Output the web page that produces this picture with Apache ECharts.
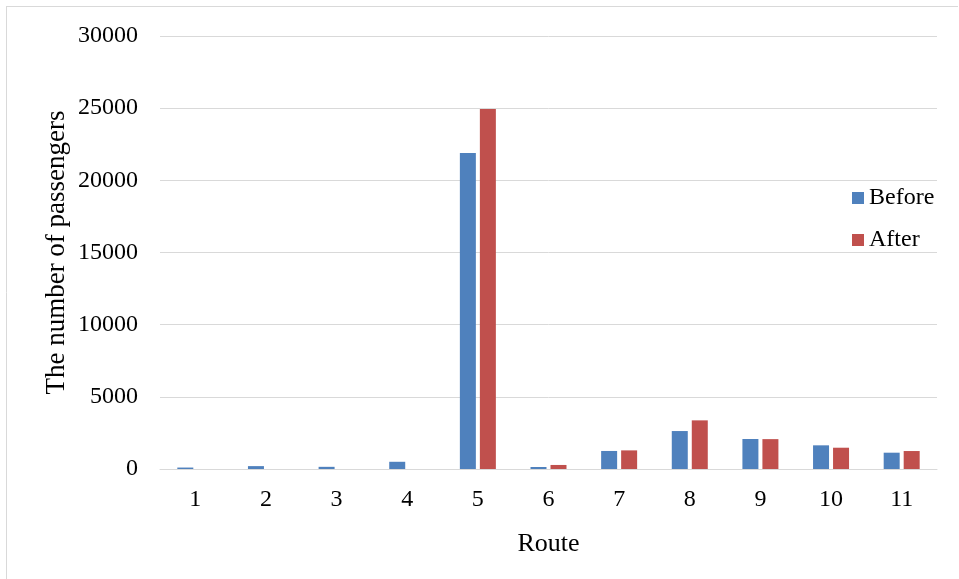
<!DOCTYPE html>
<html>
<head>
<meta charset="utf-8">
<script src="https://cdn.jsdelivr.net/npm/echarts@6/dist/echarts.min.js"></script>
<style>
  html, body { margin: 0; padding: 0; background: #fff; }
  #chart { width: 959px; height: 579px; }
</style>
</head>
<body>
<div id="chart"></div>
<script>
// Passenger counts per route, before and after the change
const routes = ['1', '2', '3', '4', '5', '6', '7', '8', '9', '10', '11'];
const before = [100, 200, 150, 500, 21900, 140, 1250, 2630, 2080, 1640, 1130];
const after  = [0, 0, 0, 0, 24950, 280, 1290, 3370, 2070, 1475, 1245];
const yTicks = [0, 5000, 10000, 15000, 20000, 25000, 30000];

const FONT = '"Liberation Serif", "Times New Roman", serif';
const GRID_COLOR = '#d9d9d9';

const chart = echarts.init(document.getElementById('chart'), null, { renderer: 'canvas' });

chart.setOption({
  backgroundColor: '#ffffff',
  animation: false,
  textStyle: { fontFamily: FONT, color: '#000' },
  graphic: [
    // frame: top and left edges
    { type: 'line', shape: { x1: 6, y1: 6.5, x2: 958, y2: 6.5 }, style: { stroke: GRID_COLOR, lineWidth: 1 } },
    { type: 'line', shape: { x1: 6.5, y1: 6, x2: 6.5, y2: 579 }, style: { stroke: GRID_COLOR, lineWidth: 1 } }
  ],
  grid: { left: 160, right: 22, top: 36, bottom: 110, containLabel: false },
  legend: {
    orient: 'vertical',
    left: 847,
    top: 181,
    itemWidth: 12,
    itemHeight: 12,
    itemGap: 18,
    icon: 'rect',
    textStyle: { fontFamily: FONT, fontSize: 24, color: '#000', lineHeight: 24 },
    data: ['Before', 'After']
  },
  xAxis: {
    type: 'category',
    data: routes,
    name: 'Route',
    nameLocation: 'middle',
    nameGap: 62,
    nameTextStyle: { fontFamily: FONT, fontSize: 26, color: '#000' },
    axisLine: { show: true, lineStyle: { color: GRID_COLOR, width: 1 } },
    axisTick: { show: false },
    axisLabel: { fontFamily: FONT, fontSize: 24, color: '#000', margin: 19 }
  },
  yAxis: {
    type: 'value',
    min: yTicks[0],
    max: yTicks[yTicks.length - 1],
    interval: yTicks[1] - yTicks[0],
    name: 'The number of passengers',
    nameLocation: 'middle',
    nameGap: 90,
    nameMoveOverlap: false,
    nameTextStyle: { fontFamily: FONT, fontSize: 27, color: '#000' },
    axisLine: { show: false },
    axisTick: { show: false },
    splitLine: { show: true, lineStyle: { color: GRID_COLOR, width: 1 } },
    axisLabel: {
      fontFamily: FONT, fontSize: 24, color: '#000', margin: 22,
      formatter: (v) => String(v)
    }
  },
  series: [
    {
      name: 'Before',
      type: 'bar',
      data: before,
      barWidth: 16,
      barGap: '25%',
      itemStyle: { color: '#4F81BD' }
    },
    {
      name: 'After',
      type: 'bar',
      data: after,
      barWidth: 16,
      itemStyle: { color: '#C0504D' }
    }
  ]
});
</script>
</body>
</html>
